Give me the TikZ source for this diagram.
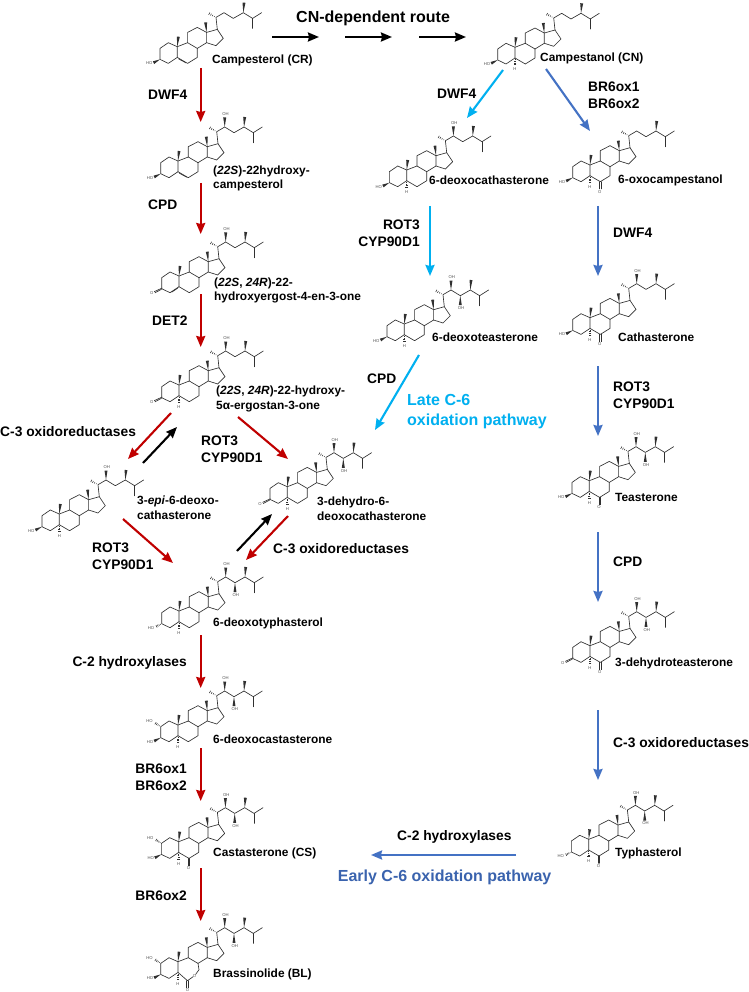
\documentclass[tikz,border=0pt]{standalone}
\usepackage{fontspec}
\setmainfont{Liberation Sans}
\usetikzlibrary{arrows.meta,calc}
\definecolor{redarrow}{HTML}{C00000}
\definecolor{skyarrow}{HTML}{00B0F0}
\definecolor{bluearrow}{HTML}{4472C4}
\definecolor{earlytext}{HTML}{3A63AE}
\definecolor{bondc}{HTML}{303030}
\definecolor{atomc}{HTML}{505050}
\tikzset{
  bond/.style={draw=bondc,line width=.65pt,line join=round,line cap=round},
  atom/.style={font=\fontsize{4.2}{4.2}\selectfont,text=atomc,inner sep=0pt},
  cpd/.style={font=\fontsize{11.9}{14.6}\selectfont\bfseries,anchor=west,align=left,inner sep=0pt},
  enz/.style={font=\fontsize{13.8}{16.8}\selectfont\bfseries,anchor=west,align=left,inner sep=0pt},
  enzr/.style={font=\fontsize{13.8}{16.8}\selectfont\bfseries,anchor=east,align=right,inner sep=0pt},
  ttl/.style={font=\fontsize{16}{20}\selectfont\bfseries,anchor=west,align=left,inner sep=0pt},
  arr/.style={line width=2.1pt,-{Stealth[length=11pt,width=9pt,inset=1pt]}},
  redarr/.style={arr,draw=redarrow,color=redarrow},
  skyarr/.style={arr,draw=skyarrow,color=skyarrow},
  bluearr/.style={arr,draw=bluearrow,color=bluearrow},
  blackarr/.style={arr,draw=black,color=black},
}
% solid and hashed stereo bonds
\newcommand\bw[2]{\fill[bondc] #1 -- ($#2!1.5pt!90:#1$) -- ($#2!1.5pt!-90:#1$) -- cycle;}
\newcommand\bh[2]{\foreach \hp/\hw in {.2/.4,.4/.7,.6/1,.8/1.3,1/1.6}{\draw[draw=bondc,line width=.55pt] ($#1!\hp!#2!\hw pt!90:#2$) -- ($#1!\hp!#2!\hw pt!-90:#2$);}}
% molecule: name, x and y of C10 in reference pixels, extras
\newcommand\mol[4]{%
\begin{scope}[shift={(#2,-#3)},name prefix=#1-]
\coordinate (C1) at (-9,4);\coordinate (C2) at (-17.3,-1.7);\coordinate (C3) at (-17.3,-12.7);
\coordinate (C4) at (-9,-16.7);\coordinate (C5) at (0,-10.7);\coordinate (C6) at (10.3,-16.7);
\coordinate (C7) at (20,-10.7);\coordinate (C8) at (20,-1.7);\coordinate (C9) at (10.3,4);
\coordinate (C10) at (0,0);\coordinate (C11) at (10.3,14.3);\coordinate (C12) at (20,19.3);
\coordinate (C13) at (29.3,14.3);\coordinate (C14) at (29.3,4);\coordinate (C15) at (38.7,1);
\coordinate (C16) at (46,8.3);\coordinate (C17) at (40,17.3);\coordinate (C18) at (28.3,24.3);
\coordinate (C19) at (1,10);\coordinate (C20) at (38.7,29.3);\coordinate (C21) at (30.3,34);
\coordinate (C22) at (46.7,34);\coordinate (C23) at (56,28.3);\coordinate (C24) at (66,34);
\coordinate (C28) at (66.7,44);\coordinate (C25) at (75.3,28.3);\coordinate (C26) at (84.3,34);
\coordinate (C27) at (75.3,18.3);
\draw[bond] (C10)--(C1)--(C2)--(C3)--(C4)--(C5)--(C10)--(C9)--(C8);
\draw[bond] (C9)--(C11)--(C12)--(C13)--(C14)--(C8);
\draw[bond] (C13)--(C17)--(C16)--(C15)--(C14);
\draw[bond] (C17)--(C20)--(C22)--(C23)--(C24)--(C25)--(C26);
\draw[bond] (C25)--(C27);
\bw{(C13)}{(C18)}\bw{(C10)}{(C19)}\bw{(C24)}{(C28)}\bh{(C20)}{(C21)}
#4
\end{scope}}
\newcommand\Bring{\draw[bond] (C5)--(C6)--(C7)--(C8);}
\newcommand\Blactone{%
\coordinate (L6) at (9.5,-19);\coordinate (LO) at (16.5,-14);\coordinate (L7) at (21,-8);
\draw[bond] (C5)--(L6)--($(LO)+(-1.4,-1)$);\draw[bond] ($(LO)+(1.1,1.3)$)--(L7)--(C8);
\node[atom] (ringO) at (LO) {O};
\draw[bond] ($(L6)+(-.7,0)$)--($(L6)+(-.7,-7)$);\draw[bond] ($(L6)+(.7,0)$)--($(L6)+(.7,-7)$);
\node[atom] (ketoO) at ($(L6)+(0,-9.2)$) {O};}
\newcommand\DblFive{\draw[bond] ($(C5)+(1.4,-1.5)$)--($(C6)+(-1.8,.6)$);}
\newcommand\DblFour{\draw[bond] ($(C4)+(1.8,.6)$)--($(C5)+(-1.4,-1.5)$);}
\newcommand\Hfive{\coordinate (Hb) at (0,-19);\bh{(C5)}{(Hb)}\node[atom] (H5) at (0,-22) {H};}
\newcommand\OHw{\coordinate (Ob) at (-23.8,-16);\bw{(C3)}{(Ob)}\node[atom] (O3) at (-28,-16.7) {HO};}
\newcommand\OHh{\coordinate (Ob) at (-23.8,-16);\bh{(C3)}{(Ob)}\node[atom] (O3) at (-28,-16.7) {HO};}
\newcommand\OHtwo{\coordinate (Oa) at (-23.8,2.6);\bh{(C2)}{(Oa)}\node[atom] (O2) at (-28.5,3.6) {HO};}
\newcommand\Ketothree{\draw[bond] ($(C3)+(.3,.6)$)--(-24.6,-15.6);\draw[bond] ($(C3)+(-.3,-.6)$)--(-24,-16.8);\node[atom] (O3) at (-27.3,-16.9) {O};}
\newcommand\Ketosix{\draw[bond] ($(C6)+(-.7,0)$)--($(C6)+(-.7,-7.2)$);\draw[bond] ($(C6)+(.7,0)$)--($(C6)+(.7,-7.2)$);\node[atom] (O6) at ($(C6)+(-.6,-10)$) {O};}
\newcommand\OHa{\coordinate (Oc) at (46.7,43.5);\bw{(C22)}{(Oc)}\node[atom] (O22) at (47.5,46.5) {OH};}
\newcommand\OHb{\coordinate (Od) at (56,18.8);\bw{(C23)}{(Od)}\node[atom] (O23) at (56.8,15.8) {OH};}
% arrow with named ends
\newcommand\arrowlink[4]{\coordinate (#2-s) at (#3);\coordinate (#2-e) at (#4);\draw[#1] (#2-s) -- (#2-e);}
\begin{document}
\begin{tikzpicture}[x=1pt,y=1pt]
\useasboundingbox (0,0) rectangle (748,-992);
\fill[white] (0,0) rectangle (748,-992);
% molecules, left column
\mol{mA}{177.3}{46.7}{\Bring\DblFive\OHw}
\mol{mB}{178}{161}{\Bring\DblFive\OHw\OHa}
\mol{mC}{179}{276}{\Bring\DblFour\Ketothree\OHa}
\mol{mD}{179}{385}{\Bring\Hfive\Ketothree\OHa}
\mol{mE}{59.3}{514}{\Bring\Hfive\OHw\OHa}
\mol{mF}{287.3}{486.7}{\Bring\Hfive\Ketothree\OHa\OHb}
\mol{mG}{179}{611}{\Bring\Hfive\OHh\OHa\OHb}
\mol{mH}{178}{725}{\Bring\Hfive\OHtwo\OHw\OHa\OHb}
\mol{mI}{178.7}{841.7}{\Bring\Ketosix\Hfive\OHtwo\OHw\OHa\OHb}
\mol{mJ}{178}{961.7}{\Blactone\Hfive\OHtwo\OHw\OHa\OHb}
% molecules, right columns
\mol{mK}{515}{47.3}{\Bring\Hfive\OHw}
\mol{mL}{406.7}{170}{\Bring\Hfive\OHw\OHa}
\mol{mM}{590}{165}{\Bring\Ketosix\Hfive\OHw}
\mol{mN}{404.3}{324}{\Bring\Hfive\OHw\OHa\OHb}
\mol{mO}{590}{317.7}{\Bring\Ketosix\Hfive\OHw\OHa}
\mol{mP}{589.3}{480.7}{\Bring\Ketosix\Hfive\OHw\OHa\OHb}
\mol{mQ}{590}{645.7}{\Bring\Ketosix\Hfive\Ketothree\OHa\OHb}
\mol{mR}{588.7}{839.3}{\Bring\Ketosix\Hfive\OHh\OHa\OHb}
% compound names
\node[cpd] (nA) at (212,-60) {Campesterol (CR)};
\node[cpd] (nB) at (213,-178.5) {(\textit{22S})-22hydroxy-\\campesterol};
\node[cpd] (nC) at (214,-290.5) {(\textit{22S}, \textit{24R})-22-\\hydroxyergost-4-en-3-one};
\node[cpd] (nD) at (216,-399) {(\textit{22S}, \textit{24R})-22-hydroxy-\\5α-ergostan-3-one};
\node[cpd] (nE) at (137,-508) {3-\textit{epi}-6-deoxo-\\cathasterone};
\node[cpd] (nF) at (317,-508.5) {3-dehydro-6-\\deoxocathasterone};
\node[cpd] (nG) at (213,-623) {6-deoxotyphasterol};
\node[cpd] (nH) at (213,-739) {6-deoxocastasterone};
\node[cpd] (nI) at (213,-853) {Castasterone (CS)};
\node[cpd] (nJ) at (213,-974) {Brassinolide (BL)};
\node[cpd] (nK) at (540,-58) {Campestanol (CN)};
\node[cpd] (nL) at (429,-180) {6-deoxocathasterone};
\node[cpd] (nM) at (618,-180) {6-oxocampestanol};
\node[cpd] (nN) at (432,-337) {6-deoxoteasterone};
\node[cpd] (nO) at (618,-337) {Cathasterone};
\node[cpd] (nP) at (615,-497) {Teasterone};
\node[cpd] (nQ) at (615,-663) {3-dehydroteasterone};
\node[cpd] (nR) at (615,-853) {Typhasterol};
% enzymes
\node[enz] (e1) at (148,-94.5) {DWF4};
\node[enz] (e2) at (148,-205) {CPD};
\node[enz] (e3) at (152,-321) {DET2};
\node[enz] (e4) at (0,-432) {C-3 oxidoreductases};
\node[enz] (e5) at (201,-449.5) {ROT3\\CYP90D1};
\node[enz] (e6) at (92,-556) {ROT3\\CYP90D1};
\node[enz] (e7) at (273,-549) {C-3 oxidoreductases};
\node[enzr] (e8) at (187,-663) {C-2 hydroxylases};
\node[enzr] (e9) at (187,-777.5) {BR6ox1\\BR6ox2};
\node[enzr] (e10) at (187,-896) {BR6ox2};
\node[enz] (e11) at (437,-94) {DWF4};
\node[enz] (e12) at (588,-95.5) {BR6ox1\\BR6ox2};
\node[enzr] (e13) at (420,-233.5) {ROT3\\CYP90D1};
\node[enz] (e14) at (613,-233) {DWF4};
\node[enz] (e15) at (367,-379) {CPD};
\node[enz] (e16) at (613,-395) {ROT3\\CYP90D1};
\node[enz] (e17) at (613,-562) {CPD};
\node[enz] (e18) at (613,-743) {C-3 oxidoreductases};
\node[enz] (e19) at (397,-837) {C-2 hydroxylases};
% titles
\node[ttl] (t1) at (296,-18) {CN-dependent route};
\node[ttl,text=skyarrow] (t2) at (407,-412) {Late C-6\\oxidation pathway};
\node[ttl,text=earlytext,anchor=east] (t3) at (551.5,-877) {Early C-6 oxidation pathway};
% arrows
\arrowlink{blackarr}{k1}{272,-37}{319,-37}
\arrowlink{blackarr}{k2}{345,-37}{392,-37}
\arrowlink{blackarr}{k3}{419,-37}{466,-37}
\arrowlink{redarr}{r1}{200.7,-68}{200.7,-122}
\arrowlink{redarr}{r2}{200.7,-183}{200.7,-234}
\arrowlink{redarr}{r3}{200.7,-294}{200.7,-347}
\arrowlink{redarr}{r4}{171,-413}{128,-459}
\arrowlink{blackarr}{k4}{143,-463}{177,-427}
\arrowlink{redarr}{r5}{238,-417}{288,-459}
\arrowlink{redarr}{r6}{123,-519}{173,-563}
\arrowlink{blackarr}{k5}{237,-551}{272,-514}
\arrowlink{redarr}{r7}{288,-516}{246,-560}
\arrowlink{redarr}{r8}{200.7,-635}{200.7,-688}
\arrowlink{redarr}{r9}{200.7,-748}{200.7,-801}
\arrowlink{redarr}{r10}{200.7,-868}{200.7,-921}
\arrowlink{skyarr}{s1}{503,-70}{467,-118}
\arrowlink{skyarr}{s2}{430,-206}{430,-276}
\arrowlink{skyarr}{s3}{419,-355}{375,-430}
\arrowlink{bluearr}{b1}{546,-69}{590,-131}
\arrowlink{bluearr}{b2}{598,-206}{598,-276}
\arrowlink{bluearr}{b3}{598,-366}{598,-436}
\arrowlink{bluearr}{b4}{598,-532}{598,-602}
\arrowlink{bluearr}{b5}{598,-710}{598,-780}
\arrowlink{bluearr}{b6}{516,-855}{371,-855}
\end{tikzpicture}
\end{document}
